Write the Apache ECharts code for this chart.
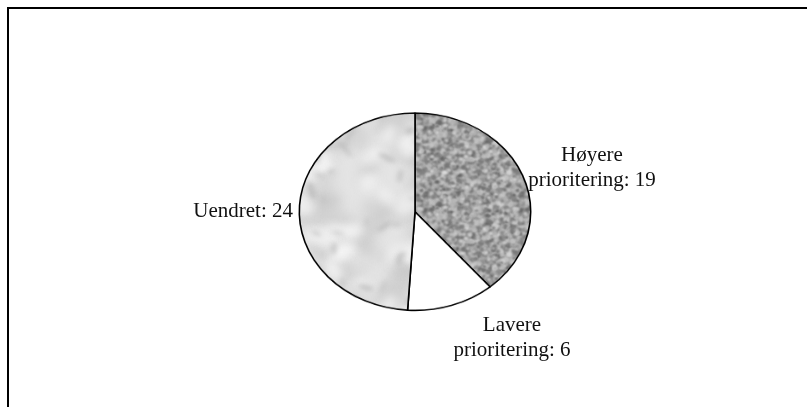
<!DOCTYPE html>
<html><head><meta charset="utf-8">
<script src="https://cdn.jsdelivr.net/npm/echarts@6/dist/echarts.min.js"></script>
<style>
html,body{margin:0;padding:0;background:#fff;overflow:hidden}
#wrap{position:relative;width:807px;height:407px}
#pie,#lab{position:absolute;left:0;top:0;width:807px;height:407px}
#pie{transform:scaleY(0.853);transform-origin:0 211.7px}
</style></head>
<body><div id="wrap"><div id="pie"></div><div id="lab"></div></div>
<script>
// ---- data ----
const categories = ['Høyere prioritering', 'Lavere prioritering', 'Uendret'];
const values = [19, 6, 24];

// ---- style ----
const labelAnchors = [
  {x: 592, y: 168, align: 'center'},
  {x: 512, y: 338, align: 'center'},
  {x: 293, y: 211, align: 'right'}
];

function prng(seed){return function(){seed|=0;seed=seed+0x6D2B79F5|0;let t=Math.imul(seed^seed>>>15,1|seed);t=t+Math.imul(t^t>>>7,61|t)^t;return((t^t>>>14)>>>0)/4294967296;};}

function wrapEll(ctx,size,x,y,rx,ry,rot){
  for(const dx of [-size,0,size])for(const dy of [-size,0,size]){
    ctx.beginPath();ctx.ellipse(x+dx,y+dy,rx,ry,rot,0,Math.PI*2);ctx.fill();
  }
}
function granite(){
  const size=96,rnd=prng(7);
  const c=document.createElement('canvas');c.width=c.height=size;
  const ctx=c.getContext('2d');
  ctx.fillStyle='#a9a9a9';ctx.fillRect(0,0,size,size);
  ctx.filter='blur(0.8px)';
  for(let i=0;i<2000;i++){
    const x=rnd()*size,y=rnd()*size,r=0.9+rnd()*1.6;
    const g=rnd()<0.45?Math.round(95+rnd()*45):Math.round(175+rnd()*45);
    ctx.fillStyle='rgb('+g+','+g+','+g+')';
    wrapEll(ctx,size,x,y,r,r*(0.7+rnd()*0.6),rnd()*3);
  }
  return c;
}
function marble(){
  const size=200,rnd=prng(11);
  const c=document.createElement('canvas');c.width=c.height=size;
  const ctx=c.getContext('2d');
  ctx.fillStyle='#e4e4e4';ctx.fillRect(0,0,size,size);
  ctx.filter='blur(6px)';
  for(let i=0;i<60;i++){
    const g=Math.round(195+rnd()*20);
    ctx.fillStyle='rgba('+g+','+g+','+g+',0.6)';
    wrapEll(ctx,size,rnd()*size,rnd()*size,8+rnd()*16,5+rnd()*8,rnd()*3);
  }
  ctx.filter='blur(5px)';
  for(let i=0;i<40;i++){
    const g=Math.round(240+rnd()*12);
    ctx.fillStyle='rgba('+g+','+g+','+g+',0.75)';
    wrapEll(ctx,size,rnd()*size,rnd()*size,6+rnd()*12,4+rnd()*8,rnd()*3);
  }
  ctx.filter='blur(2.5px)';
  for(let i=0;i<45;i++){
    const g=Math.round(160+rnd()*35);
    ctx.fillStyle='rgba('+g+','+g+','+g+',0.5)';
    wrapEll(ctx,size,rnd()*size,rnd()*size,4+rnd()*8,1.5+rnd()*2,rnd()*3);
  }
  return c;
}
const fills=[{image:granite(),repeat:'repeat'},'#ffffff',{image:marble(),repeat:'repeat'}];

const pieData=categories.map((n,i)=>({name:n,value:values[i],itemStyle:{color:fills[i]}}));
const labData=categories.map((n,i)=>({name:n,value:values[i]}));

const pieChart=echarts.init(document.getElementById('pie'),null,{renderer:'canvas'});
pieChart.setOption({
  animation:false,
  series:[{
    type:'pie',center:[415,211.7],radius:115.7,startAngle:90,clockwise:true,
    label:{show:false},labelLine:{show:false},silent:true,
    itemStyle:{borderColor:'#000',borderWidth:1.6},
    emphasis:{disabled:true},
    data:pieData
  }]
});

const labChart=echarts.init(document.getElementById('lab'),null,{renderer:'canvas'});
labChart.setOption({
  animation:false,
  graphic:[{type:'polyline',shape:{points:[[8,407],[8,8],[807,8]]},style:{stroke:'#000',lineWidth:2,fill:null},silent:true}],
  series:[{
    type:'pie',center:[415,211.7],radius:115.7,startAngle:90,clockwise:true,silent:true,
    itemStyle:{color:'rgba(0,0,0,0)',borderWidth:0},
    emphasis:{disabled:true},
    labelLine:{show:false},
    label:{show:true,position:'outside',fontFamily:'Liberation Serif',fontSize:21,lineHeight:25,color:'#111',
      formatter:p=>p.name.replace(' ','\n')+': '+p.value},
    labelLayout:p=>{const a=labelAnchors[p.dataIndex];return {x:a.x,y:a.y,align:a.align,verticalAlign:'middle'};},
    data:labData
  }]
});
</script></body></html>
